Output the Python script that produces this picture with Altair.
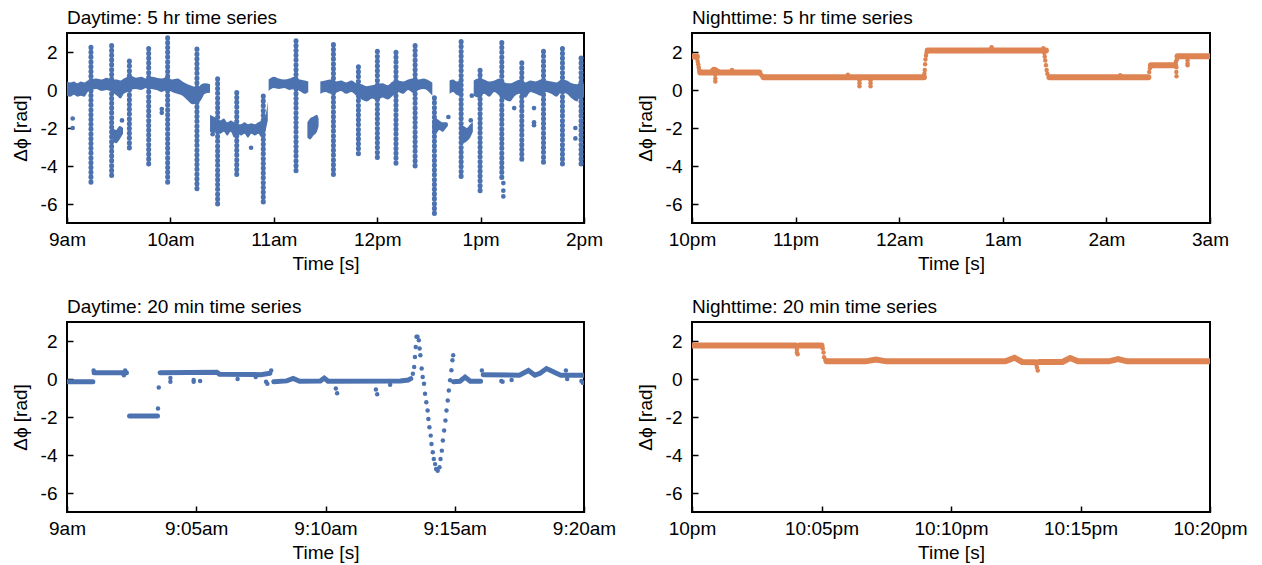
import altair as alt
import pandas as pd

BLUE = "#4C72B0"
ORANGE = "#DD8452"
FONT = "Liberation Sans"

# ---------------- Daytime 5 hr (minutes after 9am) ----------------
# band segments: (segment, t, low, high)
day5_band = [
    (1, 0, -0.3, 0.45), (1, 2, -0.35, 0.4), (1, 4, -0.25, 0.45), (1, 6, -0.35, 0.35), (1, 8, -0.3, 0.45),
    (1, 10, -0.35, 0.4), (1, 12, -0.1, 0.5), (1, 14, 0.0, 0.55), (1, 17, 0.05, 0.6), (1, 20, -0.05, 0.55),
    (1, 23, 0.0, 0.65), (1, 26, -0.1, 0.55), (1, 29, -0.3, 0.55), (1, 31, -0.45, 0.5), (1, 33, -0.2, 0.6),
    (1, 35, -0.1, 0.7), (1, 37, 0.0, 0.75), (1, 40, 0.05, 0.65), (1, 43, 0.0, 0.7), (1, 46, 0.1, 0.6),
    (1, 49, 0.05, 0.7), (1, 52, 0.0, 0.65), (1, 55, -0.1, 0.6), (1, 58, 0.0, 0.7), (1, 61, -0.1, 0.55),
    (1, 64, -0.2, 0.6), (1, 67, -0.3, 0.45), (1, 70, -0.55, 0.3), (1, 73, -0.75, 0.2), (1, 76, -0.7, 0.15),
    (1, 78, -0.5, 0.3), (1, 80, -0.2, 0.35), (1, 83, -0.15, 0.3),
    (2, 83, -2.2, -1.3), (2, 85, -2.3, -1.4), (2, 87, -2.1, -1.5), (2, 89, -2.3, -1.6), (2, 91, -2.2, -1.5),
    (2, 93, -2.4, -1.7), (2, 95, -2.2, -1.6), (2, 97, -2.5, -1.7), (2, 99, -2.3, -1.8), (2, 101, -2.4, -1.8),
    (2, 103, -2.3, -1.7), (2, 105, -2.5, -1.8), (2, 107, -2.3, -1.75), (2, 109, -2.4, -1.8), (2, 111, -2.3, -1.7),
    (2, 113, -2.5, -1.6), (2, 115, -2.2, -1.4), (2, 116.5, -1.6, -0.6),
    (3, 117, -0.05, 0.55), (3, 120, 0.1, 0.7), (3, 123, 0.05, 0.6), (3, 126, 0.1, 0.55), (3, 129, 0.0, 0.6),
    (3, 132, 0.05, 0.7), (3, 135, -0.05, 0.55), (3, 138, -0.2, 0.5), (3, 140, -0.1, 0.45),
    (4, 139.5, -2.5, -1.7), (4, 141, -2.6, -1.5), (4, 143, -2.4, -1.4), (4, 145, -2.2, -1.3), (4, 146, -1.9, -1.5),
    (5, 147, -0.2, 0.45), (5, 150, -0.1, 0.5), (5, 153, -0.2, 0.55), (5, 156, -0.15, 0.45), (5, 159, -0.05, 0.5),
    (5, 162, -0.2, 0.4), (5, 165, -0.1, 0.5), (5, 168, -0.3, 0.35), (5, 171, -0.5, 0.3), (5, 174, -0.6, 0.2),
    (5, 177, -0.45, 0.25), (5, 180, -0.55, 0.3), (5, 183, -0.4, 0.35), (5, 186, -0.5, 0.25), (5, 189, -0.3, 0.45),
    (5, 192, -0.1, 0.5), (5, 195, -0.2, 0.45), (5, 198, 0.0, 0.55), (5, 201, -0.15, 0.6), (5, 204, 0.0, 0.55),
    (5, 207, 0.05, 0.6), (5, 210, -0.1, 0.5), (5, 212, -0.3, 0.4),
    (6, 212, -2.3, -1.6), (6, 214, -2.3, -1.5), (6, 216, -2.1, -1.6), (6, 218, -2.2, -1.7), (6, 220, -2.0, -1.7),
    (6, 221, -1.9, -1.75),
    (7, 222, -0.2, 0.5), (7, 224, -0.1, 0.55), (7, 226, -0.25, 0.45), (7, 228, -0.3, 0.5),
    (8, 228.5, -2.6, -1.9), (8, 230, -2.8, -1.9), (8, 232, -2.7, -2.0), (8, 234, -2.5, -1.8), (8, 235.5, -2.2, -1.7),
    (9, 236, -0.3, 0.5), (9, 239, -0.4, 0.6), (9, 242, -0.2, 0.55), (9, 245, -0.35, 0.45), (9, 248, -0.1, 0.5),
    (9, 251, -0.3, 0.6), (9, 254, -0.5, 0.4), (9, 257, -0.6, 0.35), (9, 260, -0.3, 0.45), (9, 263, -0.2, 0.55),
    (9, 266, -0.4, 0.4), (9, 269, -0.1, 0.5), (9, 272, -0.2, 0.45), (9, 275, -0.3, 0.55), (9, 278, -0.1, 0.5),
    (9, 281, -0.2, 0.45), (9, 284, -0.35, 0.4), (9, 287, -0.1, 0.55), (9, 290, -0.2, 0.5), (9, 293, -0.45, 0.35),
    (9, 296, -0.6, 0.3), (9, 298, -0.3, 0.45), (9, 300, -0.4, 0.3),
    (10, 26.5, -2.7, -2.0), (10, 28.5, -2.8, -2.1), (10, 30.5, -2.6, -1.9), (10, 32.5, -2.3, -2.0),
]
# spikes: (t, low, high)
day5_spikes = [
    (13.9, -4.85, 2.3), (25.9, -4.5, 2.35), (36.2, -3.05, 1.55), (47.4, -3.9, 2.35), (58.4, -4.85, 2.75),
    (75.4, -5.2, 2.35), (87.4, -6.0, 0.7), (98.5, -4.45, -0.05), (113.9, -5.9, -0.3), (132.9, -4.25, 2.6),
    (154.6, -4.45, 2.55), (169.1, -3.35, 1.45), (180.1, -3.55, 2.1), (190.9, -3.85, 2.0), (202.0, -4.0, 2.35),
    (213.2, -6.5, -0.2), (228.7, -4.55, 2.6), (239.7, -5.3, 1.1), (252.3, -4.6, 2.55), (263.9, -3.65, 1.5),
    (276.5, -3.8, 2.2), (287.5, -3.9, 2.4), (298.3, -3.9, 1.8),
]
# isolated points: (t, value)
day5_dots = [
    (3.3, -1.5), (3.3, -2.0), (31.9, -1.6), (55.0, -1.0), (55.0, -1.2), (84.5, -2.33), (106.8, -3.04),
    (221.3, -1.42), (234.3, -1.6), (234.9, -0.3), (259.5, -0.95), (271.0, -0.95), (271.0, -1.7),
    (271.0, -1.85), (295.0, -2.0), (295.0, -2.55), (253.2, -4.9), (253.2, -5.3), (253.2, -5.6),
]

# ---------------- Nighttime 5 hr (minutes after 10pm) ----------------
night5_lines = [
    (1, 0, 1.76), (1, 2.8, 1.76),
    (2, 4.8, 0.92), (2, 39, 0.92),
    (3, 41.5, 0.67), (3, 134.3, 0.67),
    (4, 136.5, 2.08), (4, 205.0, 2.08),
    (5, 207, 0.67), (5, 264.3, 0.67),
    (6, 265.8, 1.3), (6, 279.8, 1.3),
    (7, 281.2, 1.78), (7, 300, 1.78),
]
night5_dots = [
    (3.0, 1.65), (3.3, 1.5), (3.6, 1.35), (3.9, 1.2), (4.2, 1.05), (4.5, 0.98),
    (11.8, 1.05), (12.5, 1.1), (13.2, 1.1), (13.5, 0.8), (13.5, 0.6), (13.5, 0.45), (14.2, 1.05), (15.0, 1.0),
    (23.2, 1.05), (39.5, 0.85), (40.2, 0.78), (40.8, 0.72),
    (90.3, 0.8), (97, 0.5), (97, 0.35), (97, 0.2), (103.4, 0.5), (103.4, 0.35), (103.4, 0.2),
    (134.6, 0.85), (134.8, 1.05), (135.0, 1.35), (135.2, 1.6), (135.5, 1.8), (135.8, 1.95),
    (173.5, 2.25), (173.5, 2.18),
    (203.5, 2.2), (204, 1.95), (204.3, 1.75), (204.6, 1.55), (205, 1.3), (205.4, 1.05), (205.8, 0.85),
    (248, 0.78), (264.8, 0.95), (265.2, 1.15),
    (280.3, 1.5), (280.5, 1.2), (280.5, 0.95), (280.6, 0.72), (280.8, 1.6), (287, 1.55), (287, 1.4), (287, 1.3),
]

# ---------------- Daytime 20 min (minutes after 9am) ----------------
day20_lines = [
    (1, 0, -0.14), (1, 1.0, -0.14),
    (2, 1.05, 0.33), (2, 2.3, 0.33),
    (3, 2.42, -1.95), (3, 3.5, -1.95),
    (4, 3.6, 0.33), (4, 5.8, 0.35), (4, 5.9, 0.25), (4, 7.5, 0.23), (4, 7.85, 0.3),
    (5, 8.0, -0.15), (5, 8.5, -0.1), (5, 8.75, 0.03), (5, 9.0, -0.12), (5, 9.8, -0.1), (5, 9.95, 0.05),
    (5, 10.1, -0.12), (5, 12.9, -0.1), (5, 13.2, -0.05), (5, 13.3, 0.02),
    (6, 14.95, -0.14), (6, 15.2, -0.12), (6, 15.4, 0.1), (6, 15.6, -0.12), (6, 16.0, -0.12),
    (7, 16.1, 0.23), (7, 17.5, 0.2), (7, 17.85, 0.45), (7, 18.1, 0.2), (7, 18.3, 0.3), (7, 18.55, 0.55),
    (7, 18.85, 0.35), (7, 19.1, 0.2), (7, 20.0, 0.2),
]
day20_dots = [
    (1.03, 0.45), (2.25, 0.45), (2.2, 0.2), (3.52, -1.55), (3.55, -0.45),
    (4.0, -0.15), (4.0, 0.05), (4.9, -0.05), (4.9, -0.15), (5.15, -0.1), (6.6, 0.0), (7.3, 0.1),
    (7.7, -0.15), (7.75, -0.25), (7.9, 0.45),
    (10.4, -0.5), (10.45, -0.75), (11.95, -0.55), (12.0, -0.8), (12.5, -0.3),
    (13.38, 0.28), (13.43, 0.63), (13.46, 1.16), (13.49, 1.69), (13.52, 2.22), (13.56, 2.22), (13.61, 2.04),
    (13.64, 1.60), (13.67, 1.25), (13.72, 0.55), (13.76, 0.11), (13.81, -0.25), (13.85, -0.78), (13.90, -1.22),
    (13.95, -1.66), (13.98, -2.10), (14.02, -2.54), (14.07, -2.98), (14.10, -3.42), (14.15, -3.86),
    (14.19, -4.21), (14.24, -4.48), (14.28, -4.74), (14.34, -4.83), (14.41, -4.65), (14.45, -4.21),
    (14.50, -3.77), (14.54, -3.24), (14.59, -2.71), (14.64, -2.19), (14.68, -1.66), (14.73, -1.13),
    (14.77, -0.60), (14.82, -0.07), (14.87, 0.46), (14.91, 0.99), (14.94, 1.25),
    (16.05, 0.45), (16.8, -0.1), (16.85, -0.15), (17.2, -0.05), (19.3, 0.45), (19.35, 0.0), (19.9, -0.1),
    (19.95, -0.2),
]

# ---------------- Nighttime 20 min (minutes after 10pm) ----------------
night20_lines = [
    (1, 0, 1.76), (1, 4.0, 1.76),
    (2, 4.15, 1.76), (2, 5.0, 1.76),
    (3, 5.2, 0.93), (3, 6.7, 0.93), (3, 7.1, 1.03), (3, 7.5, 0.93), (3, 12.1, 0.93), (3, 12.45, 1.12),
    (3, 12.75, 0.9), (3, 13.25, 0.88),
    (4, 13.4, 0.9), (4, 14.3, 0.9), (4, 14.6, 1.1), (4, 14.9, 0.93), (4, 16.1, 0.93), (4, 16.45, 1.05),
    (4, 16.8, 0.93), (4, 20, 0.93),
]
night20_dots = [
    (4.05, 1.55), (4.05, 1.4), (4.08, 1.3), (5.05, 1.6), (5.08, 1.4), (5.1, 1.15), (5.15, 1.0),
    (13.3, 0.75), (13.32, 0.6), (13.35, 0.45),
]

# axis ticks and labels
y_ticks = [-6, -4, -2, 0, 2]
hr_ticks = [0, 60, 120, 180, 240, 300]
min_ticks = [0, 5, 10, 15, 20]
day5_labels = ["9am", "10am", "11am", "12pm", "1pm", "2pm"]
night5_labels = ["10pm", "11pm", "12am", "1am", "2am", "3am"]
day20_labels = ["9am", "9:05am", "9:10am", "9:15am", "9:20am"]
night20_labels = ["10pm", "10:05pm", "10:10pm", "10:15pm", "10:20pm"]

W1, W2, H = 517, 518, 190
FS = 19


def label_expr(values, labels):
    expr = "''"
    for v, l in reversed(list(zip(values, labels))):
        expr = f"datum.value == {v} ? '{l}' : ({expr})"
    return expr


def x_enc(field, domain, values, labels):
    return alt.X(
        f"{field}:Q",
        scale=alt.Scale(domain=domain, nice=False, zero=False),
        axis=alt.Axis(
            values=values, labelExpr=label_expr(values, labels), title="Time [s]",
            domain=False, grid=False, ticks=True, tickSize=6, tickWidth=1.5, tickColor="black",
            offset=-6, labelPadding=7, titlePadding=5, labelFlush=False, labelOverlap=False,
            labelFont=FONT, labelFontSize=FS, labelColor="black",
            titleFont=FONT, titleFontSize=FS, titleFontWeight="normal", titleColor="black",
        ),
    )


def y_enc(field):
    return alt.Y(
        f"{field}:Q",
        scale=alt.Scale(domain=[-7, 3], nice=False, zero=False),
        axis=alt.Axis(
            values=y_ticks, labelExpr="'' + datum.value", title="Δϕ [rad]",
            domain=False, grid=False, ticks=True, tickSize=6, tickWidth=1.5, tickColor="black",
            offset=-6, labelPadding=10, titlePadding=10,
            labelFont=FONT, labelFontSize=FS, labelColor="black",
            titleFont=FONT, titleFontSize=FS, titleFontWeight="normal", titleColor="black",
        ),
    )


def title(text):
    return alt.TitleParams(text=text, anchor="start", frame="group", font=FONT, fontSize=FS,
                           fontWeight="normal", color="black", offset=5)


def line_panel(lines, dots, color, domain, values, labels, name, width, lw):
    ldf = pd.DataFrame(lines, columns=["seg", "t", "v"])
    ddf = pd.DataFrame(dots, columns=["t", "v"])
    x = x_enc("t", domain, values, labels)
    ln = alt.Chart(ldf).mark_line(color=color, strokeWidth=lw, strokeCap="round", clip=True).encode(
        x=x, y=y_enc("v"), detail="seg:N")
    pt = alt.Chart(ddf).mark_circle(color=color, size=20, opacity=1, clip=True).encode(x=x, y=y_enc("v"))
    return alt.layer(ln, pt).properties(width=width, height=H, title=title(name))


# panel 1
bdf = pd.DataFrame(day5_band, columns=["seg", "t", "lo", "hi"])
sdf = pd.DataFrame(day5_spikes, columns=["t", "lo", "hi"])
pdf = pd.DataFrame(day5_dots, columns=["t", "v"])
x1 = x_enc("t", [0, 300], hr_ticks, day5_labels)
band = alt.Chart(bdf).mark_area(color=BLUE, opacity=1, clip=True, interpolate="monotone").encode(
    x=x1, y=y_enc("lo"), y2="hi:Q", detail="seg:N")
spikes = alt.Chart(sdf).mark_rule(color=BLUE, strokeWidth=5, strokeCap="round",
                                  strokeDash=[0.5, 4.3], clip=True).encode(
    x=x1, y=y_enc("lo"), y2="hi:Q")
pts = alt.Chart(pdf).mark_circle(color=BLUE, size=22, opacity=1, clip=True).encode(x=x1, y=y_enc("v"))
p1 = alt.layer(band, spikes, pts).properties(width=W1, height=H, title=title("Daytime: 5 hr time series"))

p2 = line_panel(night5_lines, night5_dots, ORANGE, [0, 300], hr_ticks, night5_labels,
                "Nighttime: 5 hr time series", W2, 6)
p3 = line_panel(day20_lines, day20_dots, BLUE, [0, 20], min_ticks, day20_labels,
                "Daytime: 20 min time series", W1, 5)
p4 = line_panel(night20_lines, night20_dots, ORANGE, [0, 20], min_ticks, night20_labels,
                "Nighttime: 20 min time series", W2, 6)

chart = alt.concat(
    p1, p2, p3, p4, columns=2, spacing={"row": 99, "column": 108}, bounds="flush"
).properties(
    padding={"left": 2, "top": 0, "right": 5, "bottom": 5}
).configure(background="white").configure_view(stroke="black", strokeWidth=2)

chart.save("out.html", embed_options={"renderer": "svg", "actions": False})
